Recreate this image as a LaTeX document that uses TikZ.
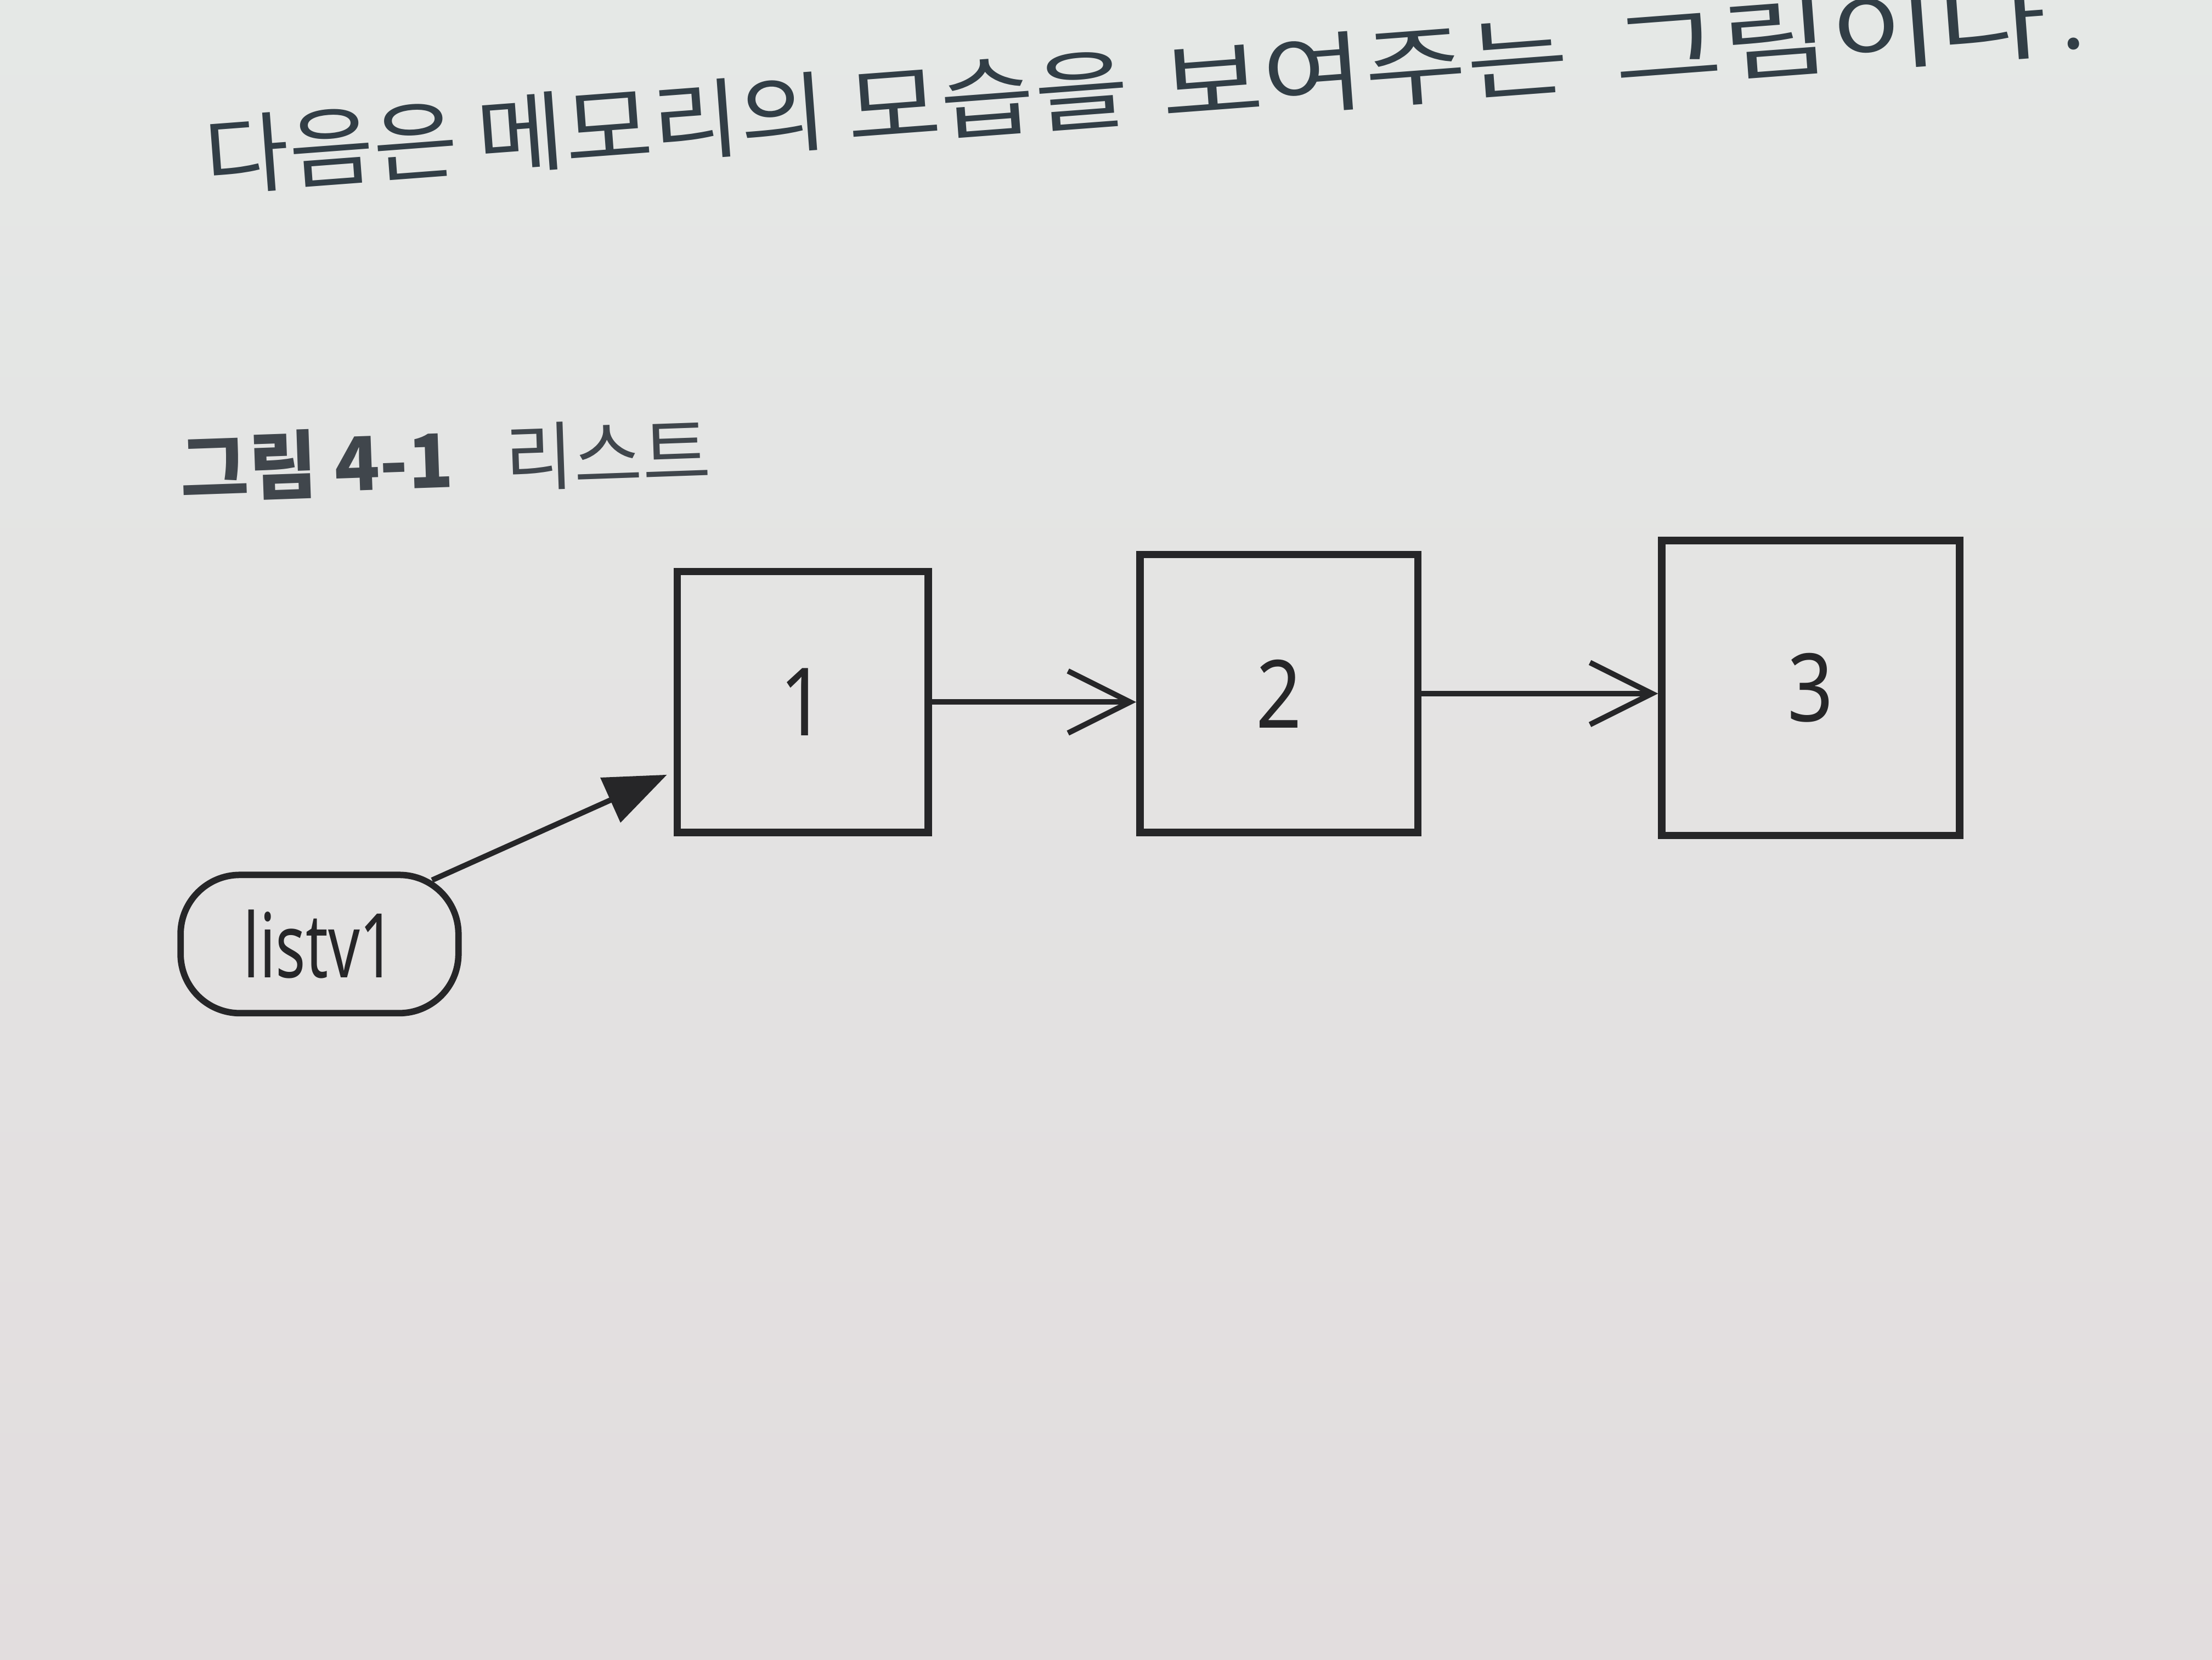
\documentclass[tikz,border=0pt]{standalone}
\usepackage{fontspec}
\setmainfont{Noto Sans}
\newfontfamily\kr{Noto Sans CJK KR}
\usetikzlibrary{arrows.meta,calc}
\definecolor{papertop}{RGB}{229,232,230}
\definecolor{paperbot}{RGB}{226,221,222}
\definecolor{ink}{RGB}{38,38,40}
\definecolor{textink}{RGB}{50,62,70}
\definecolor{capink}{RGB}{64,70,76}
\newcommand{\stretchword}[2]{\scalebox{#1}[1]{#2}}
\begin{document}
\begin{tikzpicture}[x=0.1mm,y=-0.1mm,
  cell/.style={draw=ink,line width=1.5pt,inner sep=0pt,text=ink,font=\fontsize{19}{19}\selectfont},
  link/.style={draw=ink,line width=1.1pt,-{Straight Barb[length=4.4mm,width=4.4mm]}},
  ptr/.style={draw=ink,line width=1.1pt,-{Triangle[length=4.4mm,width=3.4mm]}},
  var/.style={draw=ink,line width=1.3pt,rounded corners=4.2mm,minimum width=19.7mm,minimum height=9.8mm,inner sep=0pt,text=ink,font=\fontsize{18}{18}\selectfont}]
\path[use as bounding box] (0,0) rectangle (1568,1176);
\clip (0,0) rectangle (1568,1176);
\shade[top color=papertop,bottom color=paperbot] (0,0) rectangle (1568,1176);

\node[anchor=base west, rotate=4.3, text=textink, font=\kr\fontsize{17.5}{20}\selectfont, inner sep=0pt] (intro) at (146,134)
  {\stretchword{1.06}{다음은} \stretchword{1.1}{메모리의} \stretchword{1.18}{모습을}\hspace{.15em} \stretchword{1.28}{보여주는}\hspace{.3em} \stretchword{1.36}{그림이다}\hspace{.15em}.};

\node[anchor=base west, rotate=2, text=capink, font=\kr\fontsize{15}{16}\selectfont, inner sep=0pt] (cap) at (128,352)
  {{\bfseries 그림 4-1}\hspace{0.7em}리스트};

\node[cell,minimum width=17.8mm,minimum height=18.5mm] (b1) at (569,497.5) {\scalebox{0.85}[1]{1}};
\node[cell,minimum width=19.7mm,minimum height=19.7mm] (b2) at (906.5,491.5) {\scalebox{0.85}[1]{2}};
\node[cell,minimum width=21.1mm,minimum height=20.9mm] (b3) at (1283.5,487.5) {\scalebox{0.85}[1]{3}};
\node[var] (L) at (226.5,669) {\scalebox{0.7}[1]{listv1}};

\draw[link] (b1.east) -- (b2.west |- b1.east);
\draw[link] (b2.east) -- (b3.west |- b2.east);
\draw[ptr,shorten >=0.5mm] ($(L.north east)+(-21,6)$) -- ($(b1.south west)!0.24!(b1.north west)$);
\end{tikzpicture}
\end{document}
